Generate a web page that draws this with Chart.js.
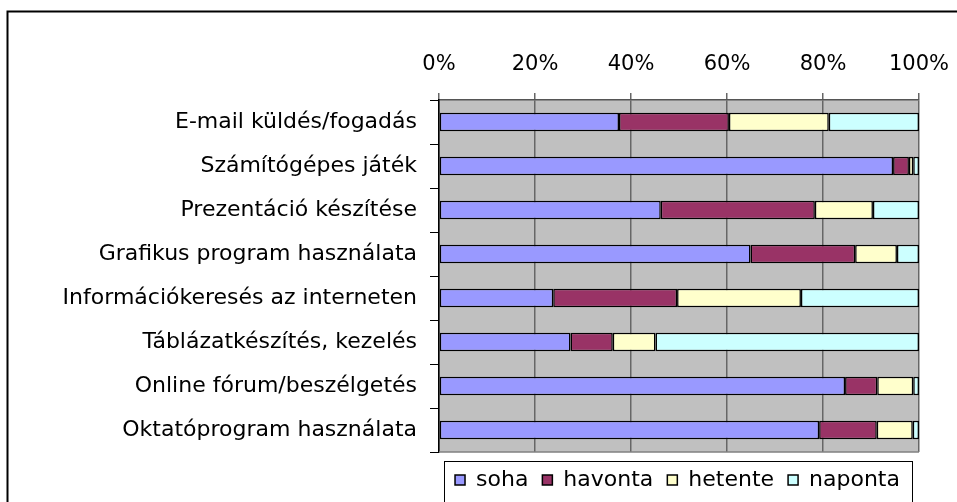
<!DOCTYPE html>
<html><head><meta charset="utf-8">
<script src="https://cdn.jsdelivr.net/npm/chart.js@4/dist/chart.umd.min.js"></script>
<style>html,body{margin:0;padding:0;background:#fff;overflow:hidden}#wrap{width:957px;height:502px;position:relative}</style>
</head><body><div id="wrap"><canvas id="c" width="957" height="502"></canvas></div>
<script>
const categories = [
  'E-mail küldés/fogadás',
  'Számítógépes játék',
  'Prezentáció készítése',
  'Grafikus program használata',
  'Információkeresés az interneten',
  'Táblázatkészítés, kezelés',
  'Online fórum/beszélgetés',
  'Oktatóprogram használata'
];
const seriesNames = ['soha', 'havonta', 'hetente', 'naponta'];
const soha    = [37.5, 94.6, 46.2, 64.9, 23.8, 27.4, 84.6, 79.2];
const havonta = [22.9,  3.3, 32.1, 21.8, 25.8,  8.8,  6.7, 12.0];
const hetente = [20.8,  0.9, 12.1,  8.7, 25.8,  8.9,  7.5,  7.5];
const naponta = [18.8,  1.2,  9.6,  4.6, 24.6, 54.9,  1.2,  1.3];
const xTicks  = [0, 20, 40, 60, 80, 100];

const colors = ['#9999FF', '#993366', '#FFFFCC', '#CCFFFF'];
const seriesData = [soha, havonta, hetente, naponta];
const FONT = 'DejaVu Sans';

const deco = {
  id: 'deco',
  afterLayout(chart) {
    const lg = chart.legend, ca = chart.chartArea;
    lg.left = ca.left - 9;
    lg.right = ca.right + 6;
    lg.top = ca.bottom + 3;
  },
  beforeDraw(chart) {
    const ctx = chart.ctx, ca = chart.chartArea;
    ctx.save();
    ctx.fillStyle = '#fff';
    ctx.fillRect(0, 0, chart.width, chart.height);
    ctx.fillStyle = '#C0C0C0';
    ctx.fillRect(ca.left, ca.top, ca.right - ca.left, ca.bottom - ca.top);
    ctx.strokeStyle = '#000';
    ctx.lineWidth = 2;
    ctx.strokeRect(7.5, 11.5, chart.width + 20, chart.height + 20);
    ctx.restore();
  },
  beforeDatasetsDraw(chart) {
    const ctx = chart.ctx, ca = chart.chartArea;
    ctx.save();
    ctx.strokeStyle = '#808080';
    ctx.lineWidth = 1.5;
    ctx.beginPath();
    ctx.moveTo(ca.left, ca.bottom);
    ctx.lineTo(ca.right, ca.bottom);
    ctx.stroke();
    ctx.restore();
  },
  afterDraw(chart) {
    const ctx = chart.ctx, ca = chart.chartArea;
    const l = Math.round(ca.left + 5), r = Math.round(ca.right - 7);
    ctx.save();
    ctx.strokeStyle = '#000';
    ctx.lineWidth = 1;
    ctx.strokeRect(l + 0.5, Math.round(ca.bottom + 9) + 0.5, r - l, 60);
    ctx.restore();
  }
};

new Chart(document.getElementById('c'), {
  type: 'bar',
  data: {
    labels: categories,
    datasets: seriesNames.map((n, i) => ({
      label: n,
      data: seriesData[i],
      backgroundColor: colors[i],
      borderColor: '#000',
      borderWidth: 1.5,
      borderSkipped: false,
      barPercentage: 0.42,
      categoryPercentage: 1
    }))
  },
  options: {
    indexAxis: 'y',
    responsive: false,
    animation: false,
    devicePixelRatio: 1,
    layout: { padding: { left: 0, right: 38, top: 0, bottom: 4 } },
    scales: {
      x: {
        position: 'top',
        stacked: true,
        min: 0, max: 100,
        afterFit(s) { s.height = 100; s.paddingLeft = 0; s.paddingRight = 0; },
        afterBuildTicks(s) { s.ticks = xTicks.map(v => ({ value: v })); },
        grid: { color: '#666', lineWidth: 1.5, tickLength: 7, drawTicks: true },
        border: { display: true, color: '#555', width: 1.5 },
        ticks: {
          color: '#000', padding: 16,
          font: { family: FONT, size: 21 },
          callback: v => v + '%',
          maxRotation: 0, autoSkip: false
        }
      },
      y: {
        stacked: true,
        afterFit(s) { s.width = 439; },
        grid: { display: true, drawOnChartArea: false, offset: true, color: '#000', tickLength: 9, lineWidth: 1 },
        border: { display: true, color: '#000', width: 1.5 },
        ticks: { color: '#000', padding: 13, font: { family: FONT, size: 22 }, autoSkip: false }
      }
    },
    plugins: {
      legend: {
        position: 'bottom',
        labels: {
          boxWidth: 10, boxHeight: 10, padding: 14, color: '#000',
          font: { family: FONT, size: 22 }
        }
      },
      tooltip: { enabled: false }
    }
  },
  plugins: [deco]
});
</script></body></html>
